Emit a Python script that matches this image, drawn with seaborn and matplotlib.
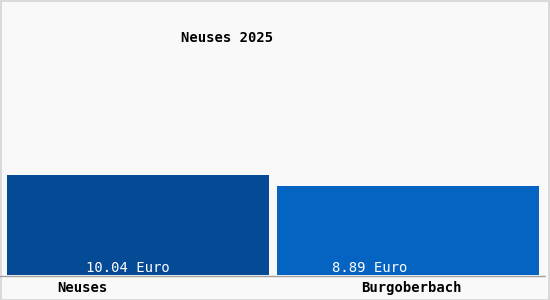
import matplotlib
matplotlib.use("Agg")
import matplotlib.pyplot as plt
import seaborn as sns
import pandas as pd
from matplotlib.patches import Rectangle

categories = ["Neuses", "Burgoberbach"]
values = [10.04, 8.89]
value_labels = ["10.04 Euro", "8.89 Euro"]
colors = ["#044a94", "#0563c1"]
title = "Neuses 2025"

sns.set_theme(style="white")
plt.rcParams['font.family'] = ['DejaVu Sans Mono', 'DejaVu Sans']

W, H = 550, 300
fig = plt.figure(figsize=(5.5, 3.0), dpi=100, facecolor="#f9f9f9")
ax = fig.add_axes([3 / W, 1 - 275 / H, 540 / W, 272 / H])
ax.set_facecolor("#f9f9f9")

df = pd.DataFrame({"cat": categories, "val": values})
sns.barplot(data=df, x="cat", y="val", hue="cat", palette=colors, legend=False,
            width=0.967, saturation=1, linewidth=0, ax=ax)
ax.set_xlim(-0.5, 1.5)
ax.set_ylim(0, 27.3)
for s in ["top", "right", "left", "bottom"]:
    ax.spines[s].set_visible(False)
ax.set_xticks([])
ax.set_yticks([])
ax.set_xlabel("")
ax.set_ylabel("")

# value labels (offset left of bar centers as in reference)
label_offsets = [-0.037, -0.141]
for i, (lab, off) in enumerate(zip(value_labels, label_offsets)):
    ax.text(i + off, 0, lab, color="white", fontsize=10, ha="center", va="bottom",
            transform=ax.transData)

# baseline line
fig.add_artist(plt.Line2D([0, 545 / W], [1 - 275.5 / H, 1 - 275.5 / H], color="#a0a0a0", lw=1))

# category labels
cat_x = [82, 411]
for lab, x in zip(categories, cat_x):
    fig.text(x / W, 1 - 288 / H, lab, ha="center", va="center", fontsize=10,
             fontweight="bold", color="black")

fig.text(227 / W, 1 - 38 / H, title, ha="center", va="center", fontsize=10,
         fontweight="bold", color="black")

# figure border
fig.add_artist(Rectangle((0.5 / W, 0.5 / H), 1 - 1.5 / W, 1 - 1.5 / H, transform=fig.transFigure,
                         fill=False, edgecolor="#d4d4d4", lw=1.2))

fig.savefig("out.png", dpi=100, facecolor=fig.get_facecolor())
